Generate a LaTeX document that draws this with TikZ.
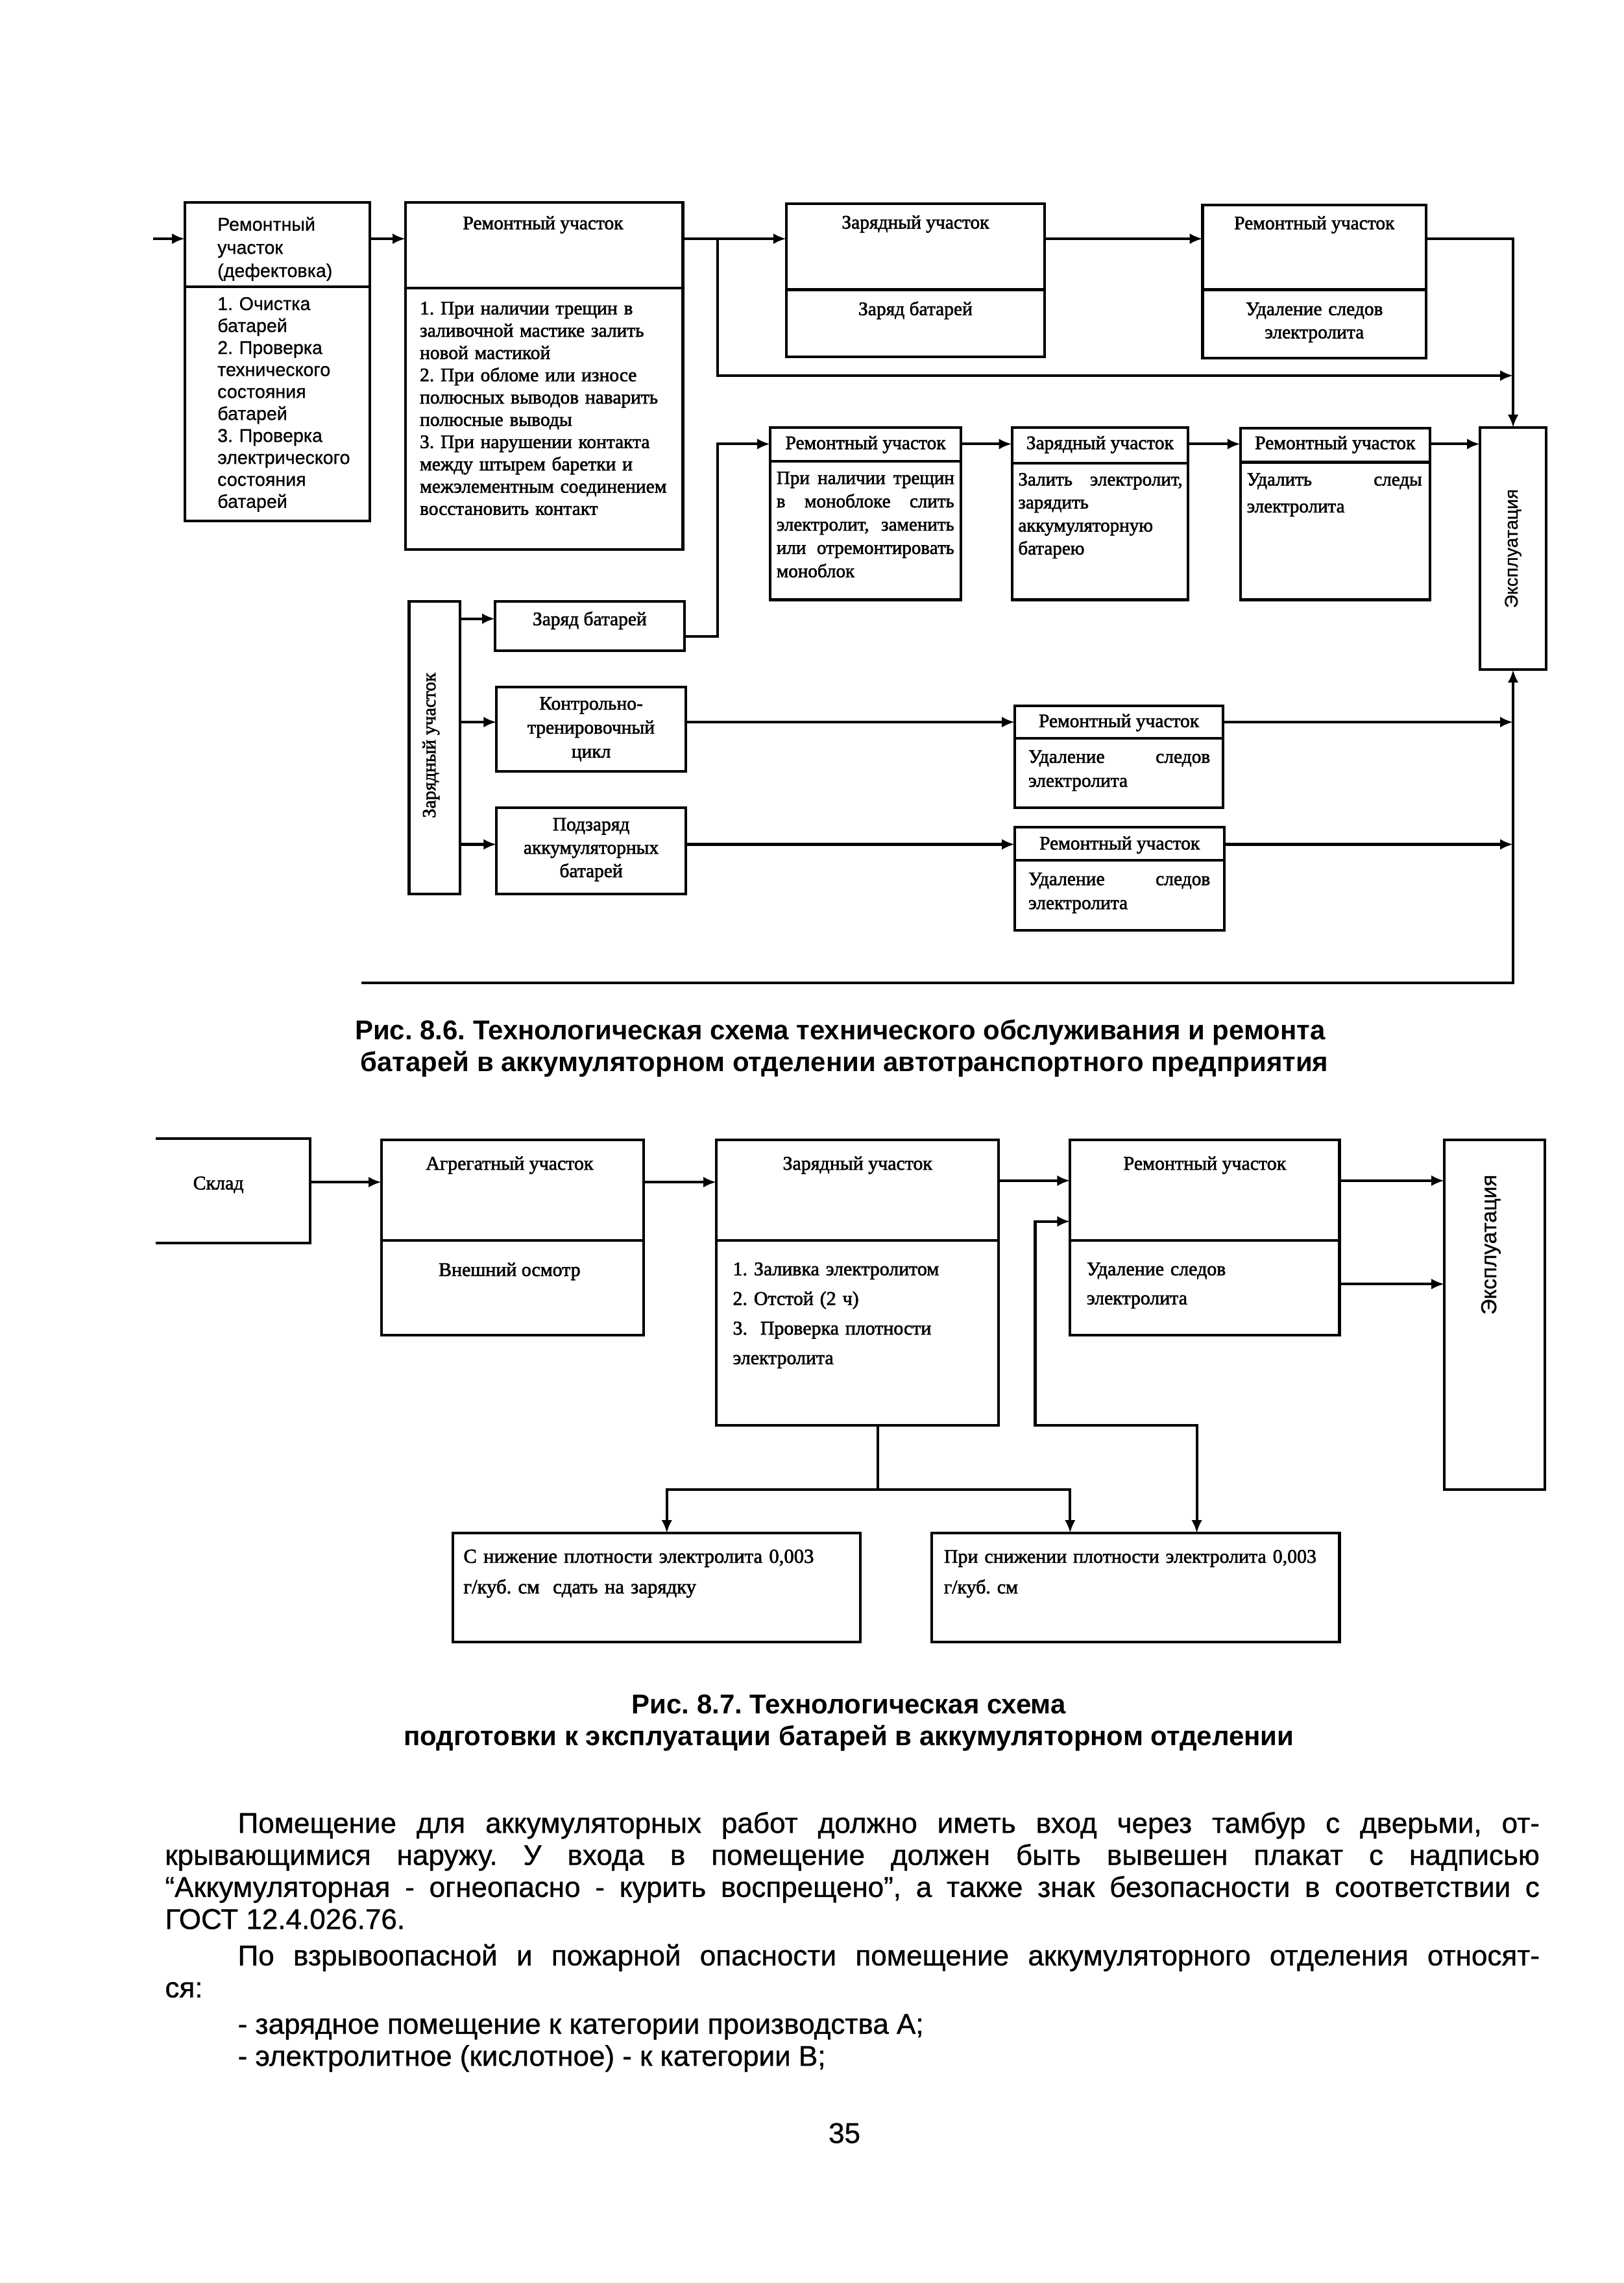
\documentclass[tikz,border=0pt]{standalone}
\usepackage{fontspec}
\setmainfont{Liberation Serif}
\newfontfamily\tsr[FakeBold=2]{Liberation Serif}
\newfontfamily\arialf[FakeBold=0.8]{Liberation Sans}
\newfontfamily\arialc{Liberation Sans}
\usetikzlibrary{arrows.meta,fit}
\frenchspacing
\newcommand\myser[2]{\tsr\fontsize{#1}{#2}\selectfont}
\newcommand\mysan[2]{\arialf\fontsize{#1}{#2}\selectfont}
\newcommand\jline[2]{\leavevmode\hbox to #1{#2}}
\tikzset{
  bx/.style={draw, line width=1pt, inner sep=0pt, outer sep=0pt},
  ln/.style={line width=1pt},
  ar/.style={line width=1pt, -{Latex[length=4.8pt,width=4pt]}},
  dar/.style={line width=1pt, {Latex[length=4.8pt,width=4pt]}-{Latex[length=4.8pt,width=4pt]}},
  hd/.style={inner sep=0pt, anchor=base, font=\myser{7.1}{8.3}},
  tx/.style={inner sep=0pt, anchor=base west, align=left},
  tc/.style={inner sep=0pt, anchor=base, align=center},
  captxt/.style={inner sep=0pt, anchor=base, font=\arialc\bfseries\fontsize{10.1}{12}\selectfont},
  bt/.style={inner sep=0pt, anchor=base west, font=\mysan{10.6}{12}},
}
\newcommand\boxfit[5]{\node[bx, fit={(#2,#3) (#4,#5)}] (#1) {};}
\newcommand\divider[2]{\draw[ln] (#1.west |- 0,#2) -- (#1.east |- 0,#2);}
\begin{document}
\begin{tikzpicture}[x=0.019cm, y=-0.019cm]
\fill[white] (0,0) rectangle (1115,1568.2);
\useasboundingbox (0,0) rectangle (1115,1568.2);

% ================= Fig 8.6 =================
\boxfit{b1}{127}{139}{254}{358}
\divider{b1}{197}
\node[tx, text width=60pt, font=\mysan{6.9}{8.6}] (b1h) at (149,158.5) {Ремонтный\\участок\\(дефектовка)};
\node[tx, text width=60pt, font=\mysan{6.9}{8.16}] (b1b) at (149,213) {1. Очистка\\батарей\\2. Проверка\\технического\\состояния\\батарей\\3. Проверка\\электрического\\состояния\\батарей};

\boxfit{b2}{278.5}{139}{469}{377.5}
\divider{b2}{198}
\node[hd] (b2h) at (373,157.5) {Ремонтный участок};
\node[tx, text width=97pt, font=\myser{7.1}{8.27}] (b2b) at (288,216) {1. При наличии трещин в\\заливочной мастике залить\\новой мастикой\\2. При обломе или износе\\полюсных выводов наварить\\полюсные выводы\\3. При нарушении контакта\\между штырем баретки и\\межэлементным соединением\\восстановить контакт};

\boxfit{z1}{540}{140}{717.5}{245}
\divider{z1}{199}
\node[hd] (z1h) at (628.75,157) {Зарядный участок};
\node[hd] (z1b) at (628.75,216.5) {Заряд батарей};

\boxfit{r1}{826}{141}{979.5}{246}
\divider{r1}{199}
\node[hd] (r1h) at (902.75,157.5) {Ремонтный участок};
\node[tc, text width=75pt, font=\myser{7.1}{8.6}] (r1b) at (902.75,216.5) {Удаление следов\\электролита};

\boxfit{e1}{1016.5}{293.7}{1062}{460}
\node[inner sep=0pt, rotate=90, font=\mysan{6.8}{8}] (e1t) at (e1.center) {Эксплуатация};

\boxfit{r2a}{529}{293.5}{660}{412}
\divider{r2a}{317}
\node[hd] (r2ah) at (594.5,308.5) {Ремонтный участок};
\node[tx, text width=66pt, font=\myser{7}{8.65}] (r2ab) at (533,332.5) {\jline{66pt}{При\hfill наличии\hfill трещин}\\\jline{66pt}{в\hfill моноблоке\hfill слить}\\\jline{66pt}{электролит,\hfill заменить}\\\jline{66pt}{или\hfill отремонтировать}\\моноблок};

\boxfit{z2}{695}{293.5}{816}{412}
\divider{z2}{318}
\node[hd] (z2h) at (755.5,308.5) {Зарядный участок};
\node[tx, text width=61pt, font=\myser{7}{8.54}] (z2b) at (699,333.5) {\jline{61pt}{Залить\hfill электролит,}\\зарядить\\аккумуляторную\\батарею};

\boxfit{r2c}{852}{294}{982}{412}
\divider{r2c}{317.5}
\node[hd] (r2ch) at (917,308.5) {Ремонтный участок};
\node[tx, text width=65pt, font=\myser{7}{10}] (r2cb) at (856,333.5) {\jline{65pt}{Удалить\hfill следы}\\электролита};

\boxfit{zu}{281}{413}{316}{614}
\node[inner sep=0pt, rotate=90, font=\myser{7}{8}] (zut) at (296,512) {Зарядный участок};

\boxfit{zb}{340}{413}{470}{447}
\node[hd] (zbt) at (405,429.5) {Заряд батарей};

\boxfit{kt}{341}{472}{471}{530}
\node[tc, text width=70pt, font=\myser{7.1}{8.9}] (ktt) at (406,487.5) {Контрольно-\\тренировочный\\цикл};

\boxfit{pz}{341}{555}{471}{614}
\node[tc, text width=70pt, font=\myser{7.1}{8.65}] (pzt) at (406,570.5) {Подзаряд\\аккумуляторных\\батарей};

\boxfit{r3}{697}{485}{840}{555}
\divider{r3}{507}
\node[hd] (r3h) at (768.5,499.5) {Ремонтный участок};
\node[tx, text width=67.5pt, font=\myser{7.1}{8.9}] (r3b) at (706,524) {\jline{67.5pt}{Удаление\hfill следов}\\электролита};

\boxfit{r4}{697}{568}{841}{639}
\divider{r4}{591}
\node[hd] (r4h) at (769,583.5) {Ремонтный участок};
\node[tx, text width=67.5pt, font=\myser{7.1}{8.9}] (r4b) at (706,608) {\jline{67.5pt}{Удаление\hfill следов}\\электролита};

% connectors fig 8.6
\coordinate (in1) at (105,164);
\draw[ar] (in1) -- (b1.west |- in1);
\draw[ar] (b1.east |- 0,164) -- (b2.west |- 0,164);
\draw[ar] (b2.east |- 0,164) -- (z1.west |- 0,164);
\draw[ar] (z1.east |- 0,164) -- (r1.west |- 0,164);
\draw[ar] (r1.east |- 0,164) -- (e1.north |- 0,164) -- (e1.north);
\draw[ar] (493,164) -- (493,258) -- (e1.north |- 0,258);
\draw[ar] (r2a.east |- 0,305) -- (z2.west |- 0,305);
\draw[ar] (z2.east |- 0,305) -- (r2c.west |- 0,305);
\draw[ar] (r2c.east |- 0,305) -- (e1.west |- 0,305);
\draw[ar] (zb.east |- 0,437) -- (493,437) -- (493,305) -- (r2a.west |- 0,305);
\draw[ar] (zu.east |- 0,425) -- (zb.west |- 0,425);
\draw[ar] (zu.east |- 0,496) -- (kt.west |- 0,496);
\draw[ar] (zu.east |- 0,580) -- (pz.west |- 0,580);
\draw[ar] (kt.east |- 0,496) -- (r3.west |- 0,496);
\draw[ar] (pz.east |- 0,580) -- (r4.west |- 0,580);
\draw[ar] (r3.east |- 0,496) -- (e1.south |- 0,496);
\draw[ar] (r4.east |- 0,580) -- (e1.south |- 0,580);
\coordinate (bl) at (248,675);
\draw[ar] (bl) -- (bl -| e1.south) -- (e1.south);

\node[captxt] (c86a) at (577,714) {Рис. 8.6. Технологическая схема технического обслуживания и ремонта};
\node[captxt] (c86b) at (580,736) {батарей в аккумуляторном отделении автотранспортного предприятия};

% ================= Fig 8.7 =================
\node[inner sep=0pt, outer sep=0pt, fit={(107,782) (213,854)}] (skl) {};
\draw[ln] (skl.north west) -- (skl.north east) -- (skl.south east) -- (skl.south west);
\node[hd, font=\myser{7.2}{8}] (sklt) at (150,817) {Склад};

\boxfit{agr}{262}{783}{442}{917}
\divider{agr}{852}
\node[hd, font=\myser{7.2}{8}] (agrh) at (350,803.5) {Агрегатный участок};
\node[hd, font=\myser{7.2}{8}] (agrb) at (350,876.5) {Внешний осмотр};

\boxfit{zu7}{492}{783}{686}{979}
\divider{zu7}{852}
\node[hd, font=\myser{7.2}{8}] (zu7h) at (589,803.5) {Зарядный участок};
\node[tx, text width=95pt, font=\myser{7.2}{11}] (zu7b) at (503,876) {1. Заливка электролитом\\2. Отстой (2 ч)\\3.\ \ Проверка плотности\\электролита};

\boxfit{r7}{735}{783}{920}{917}
\divider{r7}{852}
\node[hd, font=\myser{7.2}{8}] (r7h) at (827.5,803.5) {Ремонтный участок};
\node[tx, text width=90pt, font=\myser{7.2}{10.8}] (r7b) at (746,876) {Удаление следов\\электролита};

\boxfit{e2}{992}{783}{1061}{1023}
\node[inner sep=0pt, rotate=90, font=\mysan{8}{9}] (e2t) at (1024,855) {Эксплуатация};

\boxfit{lb1}{311}{1053}{591}{1128}
\node[tx, text width=150pt, font=\myser{7.4}{11.35}] (lb1t) at (318,1073.5) {С нижение плотности электролита 0,003\\г/куб. см\ \ сдать на зарядку};
\boxfit{lb2}{640}{1053}{920}{1128}
\node[tx, text width=150pt, font=\myser{7.2}{11.35}] (lb2t) at (648,1073.5) {При снижении плотности электролита 0,003\\г/куб. см};

% connectors fig 8.7
\draw[ar] (skl.east |- 0,812) -- (agr.west |- 0,812);
\draw[ar] (agr.east |- 0,812) -- (zu7.west |- 0,812);
\draw[ar] (zu7.east |- 0,811) -- (r7.west |- 0,811);
\draw[ar] (r7.east |- 0,811) -- (e2.west |- 0,811);
\draw[ar] (r7.east |- 0,882) -- (e2.west |- 0,882);
\draw[ln] (zu7.south -| 603,0) -- (603,1023);
\draw[ar] (603,1023) -- (458,1023) -- (lb1.north -| 458,0);
\draw[ar] (603,1023) -- (735,1023) -- (lb2.north -| 735,0);
\draw[dar] (r7.west |- 0,839) -- (711,839) -- (711,979) -- (822,979) -- (lb2.north -| 822,0);

\node[captxt] (c87a) at (583,1177) {Рис. 8.7. Технологическая схема};
\node[captxt] (c87b) at (583,1199) {подготовки к эксплуатации батарей в аккумуляторном отделении};

% ================= body text =================
\node[bt] (p1) at (163,1259) {\makebox[483.3pt][s]{Помещение для аккумуляторных работ должно иметь вход через тамбур с дверьми, от-}};
\node[bt] (p2) at (113,1281) {\makebox[510.3pt][s]{крывающимися наружу. У входа в помещение должен быть вывешен плакат с надписью}};
\node[bt] (p3) at (113,1303) {\makebox[510.3pt][s]{“Аккумуляторная - огнеопасно - курить воспрещено”, а также знак безопасности в соответствии с}};
\node[bt] (p4) at (113,1325) {ГОСТ 12.4.026.76.};
\node[bt] (p5) at (163,1350) {\makebox[483.3pt][s]{По взрывоопасной и пожарной опасности помещение аккумуляторного отделения относят-}};
\node[bt] (p6) at (113,1372) {ся:};
\node[bt] (p7) at (163,1397) {- зарядное помещение к категории производства А;};
\node[bt] (p8) at (163,1419) {- электролитное (кислотное) - к категории В;};
\node[bt, anchor=base] (pg) at (580,1472) {35};
\end{tikzpicture}
\end{document}
